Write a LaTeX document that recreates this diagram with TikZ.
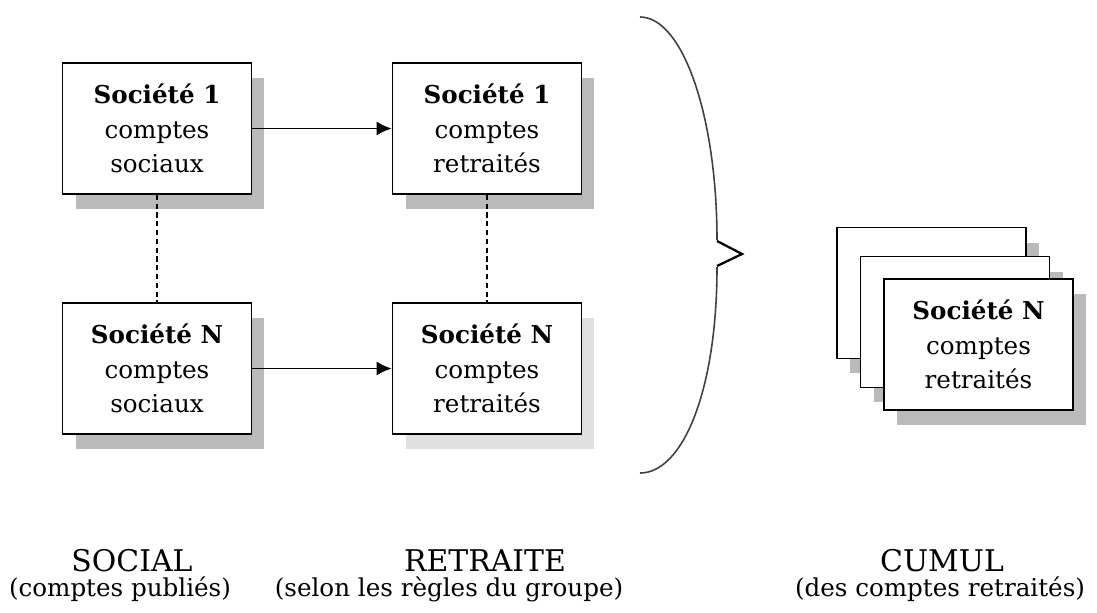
\documentclass[tikz,border=0pt]{standalone}
\usepackage{fontspec}
\setmainfont{DejaVu Serif}
\usepackage{tikz}
\usetikzlibrary{shadows}
\usetikzlibrary{arrows.meta}
\tikzstyle{compte}=[draw=black, fill=white, line width=1pt, minimum width=3.78cm, minimum height=2.62cm, align=center, font=\fontsize{14}{19.5}\selectfont, inner sep=0pt]
\tikzstyle{ombre}=[drop shadow={shadow xshift=0.26cm, shadow yshift=-0.3cm, fill=black!27, opacity=1}]
\tikzstyle{ombre_claire}=[drop shadow={shadow xshift=0.26cm, shadow yshift=-0.3cm, fill=black!12, opacity=1}]
\tikzstyle{titre}=[anchor=base, inner sep=0pt, font=\fontsize{17}{18}\selectfont]
\tikzstyle{sous_titre}=[anchor=base, inner sep=0pt, font=\fontsize{14}{16}\selectfont]
\tikzstyle{lien}=[line width=1pt, -{Latex[length=0.3cm, width=0.28cm]}]
\tikzstyle{pointille}=[line width=0.7pt, dash pattern=on 3pt off 2pt]

\begin{document}
\begin{tikzpicture}[x=0.02cm, y=-0.02cm]
\useasboundingbox (0,0) rectangle (1097,612);
\node[compte, ombre] (soc1) at (157,128.5){\textbf{Société 1}\\comptes\\sociaux};
\node[compte, ombre] (ret1) at (487,128.5){\textbf{Société 1}\\comptes\\retraités};
\node[compte, ombre] (socN) at (157,368.5){\textbf{Société N}\\comptes\\sociaux};
\node[compte, ombre_claire] (retN) at (487,368.5){\textbf{Société N}\\comptes\\retraités};
\draw[lien](soc1) -- (ret1);
\draw[lien](socN) -- (retN);
\draw[pointille](soc1) -- (socN);
\draw[pointille](ret1) -- (retN);
\draw[line width=0.9pt, black!75] (640,17) .. controls (683,17) and (717,117) .. (717,240)
  (717,267) .. controls (717,390) and (683,473) .. (640,473);
\draw[line width=1.3pt, line join=miter] (717,241) -- (742,254) -- (717,266);
\node[compte, ombre] (cum1) at (931.5,293){};
\node[compte, ombre] (cum2) at (955,322){};
\node[compte, ombre] (cum3) at (978.5,344.5){\textbf{Société N}\\comptes\\retraités};
\node[titre] (social) at (132,571){SOCIAL};
\node[sous_titre] (social_txt) at (120,596){(comptes publiés)};
\node[titre] (retraite) at (485,571){RETRAITE};
\node[sous_titre] (retraite_txt) at (449,596){(selon les règles du groupe)};
\node[titre] (cumul) at (942,571){CUMUL};
\node[sous_titre] (cumul_txt) at (940,596){(des comptes retraités)};
\end{tikzpicture}
\end{document}
